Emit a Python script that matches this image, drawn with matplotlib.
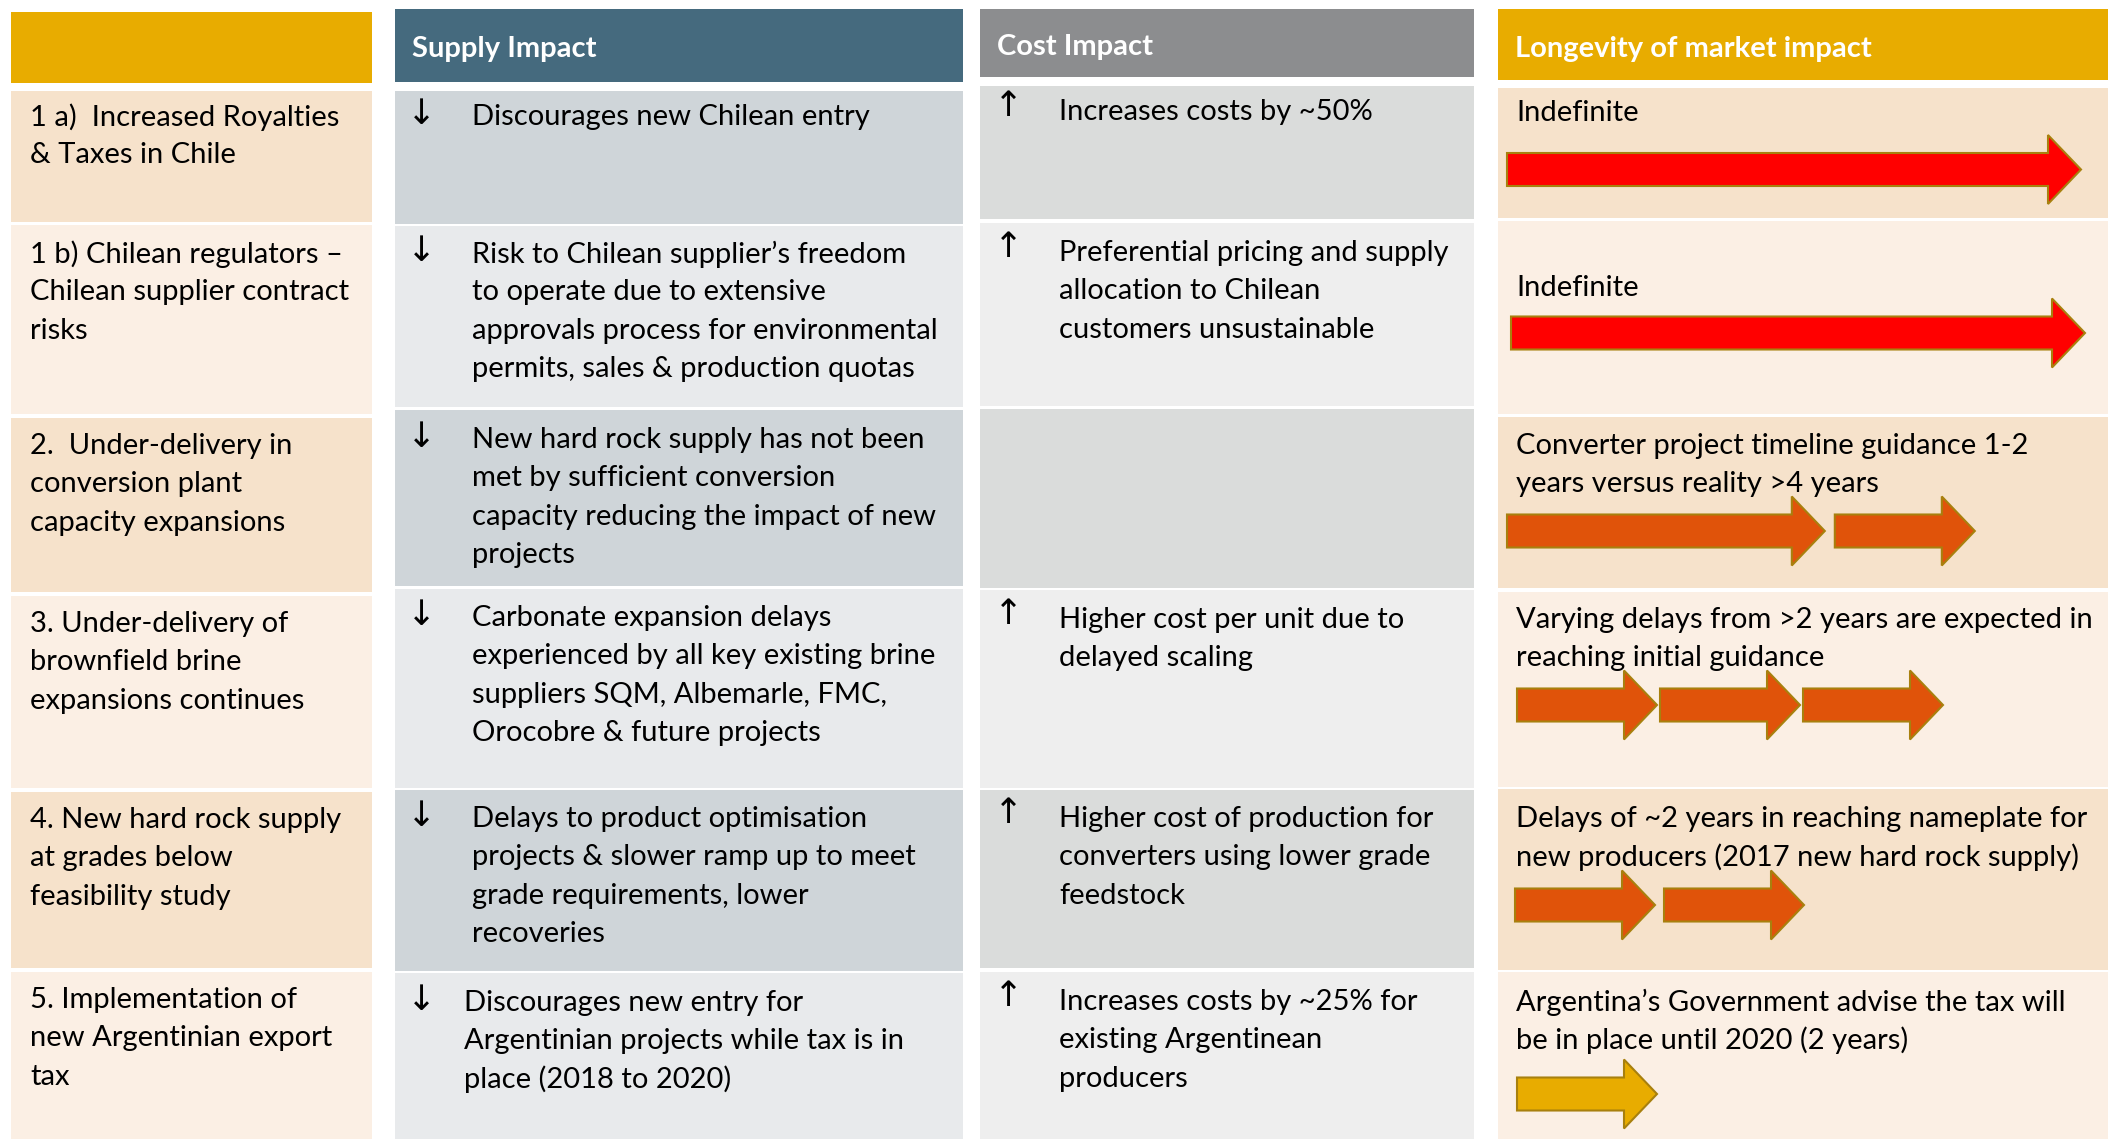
import matplotlib
matplotlib.use('Agg')
import matplotlib.pyplot as plt
from matplotlib.patches import Rectangle, Polygon

plt.rcParams['font.family'] = ['Lato', 'DejaVu Sans']

# table content
headers = ['', 'Supply Impact', 'Cost Impact', 'Longevity of market impact']

drivers = [
    ['1 a)  Increased Royalties', '& Taxes in Chile'],
    ['1 b) Chilean regulators \u2013', 'Chilean supplier contract', 'risks'],
    ['2.  Under-delivery in', 'conversion plant', 'capacity expansions'],
    ['3. Under-delivery of', 'brownfield brine', 'expansions continues'],
    ['4. New hard rock supply', 'at grades below', 'feasibility study'],
    ['5. Implementation of', 'new Argentinian export', 'tax'],
]

supply = [
    ['Discourages new Chilean entry'],
    ['Risk to Chilean supplier\u2019s freedom', 'to operate due to extensive',
     'approvals process for environmental', 'permits, sales & production quotas'],
    ['New hard rock supply has not been', 'met by sufficient conversion',
     'capacity reducing the impact of new', 'projects'],
    ['Carbonate expansion delays', 'experienced by all key existing brine',
     'suppliers SQM, Albemarle, FMC,', 'Orocobre & future projects'],
    ['Delays to product optimisation', 'projects & slower ramp up to meet',
     'grade requirements, lower', 'recoveries'],
    ['Discourages new entry for', 'Argentinian projects while tax is in',
     'place (2018 to 2020)'],
]

cost = [
    ['Increases costs by ~50%'],
    ['Preferential pricing and supply', 'allocation to Chilean', 'customers unsustainable'],
    [],
    ['Higher cost per unit due to', 'delayed scaling'],
    ['Higher cost of production for', 'converters using lower grade', 'feedstock'],
    ['Increases costs by ~25% for', 'existing Argentinean', 'producers'],
]

longevity = [
    ['Indefinite'],
    ['Indefinite'],
    ['Converter project timeline guidance 1-2', 'years versus reality >4 years'],
    ['Varying delays from >2 years are expected in', 'reaching initial guidance'],
    ['Delays of ~2 years in reaching nameplate for', 'new producers (2017 new hard rock supply)'],
    ['Argentina\u2019s Government advise the tax will', 'be in place until 2020 (2 years)'],
]

# relative arrow lengths per row (units of one "step" arrow)
arrow_lengths = [[4.1], [4.1], [2.27, 1.0], [1.0, 1.0, 1.0], [1.0, 1.0], [1.0]]
arrow_colors = ['#FF0000', '#FF0000', '#E0530A', '#E0530A', '#E0530A', '#E8AC00']

# layout (pixel coords, y down)
W, H = 2108, 1139
fig = plt.figure(figsize=(W / 100, H / 100), dpi=100)
ax = fig.add_axes([0, 0, 1, 1])
ax.set_xlim(0, W)
ax.set_ylim(H, 0)
ax.axis('off')

col_x = [(11, 372), (395, 963), (980, 1474), (1498, 2108)]
head_y = [(12, 83), (9, 82), (9, 77), (9, 80)]
head_col = ['#E8AC00', '#456A7E', '#8C8D8F', '#E8AC00']
row_tops = [[91, 225, 418, 596, 792, 972],
            [91, 226, 410, 589, 790, 973],
            [86, 223, 409, 590, 790, 972],
            [88, 221, 417, 592, 789, 972]]
row_bots = [[222, 414, 592, 788, 968, 1139],
            [224, 407, 586, 788, 971, 1139],
            [219, 406, 588, 788, 968, 1139],
            [218, 414, 588, 787, 970, 1139]]
fills = [('#F6E2CB', '#FBEFE4'), ('#CFD5D9', '#E8EAEC'),
         ('#DADCDB', '#EEEEEE'), ('#F6E2CB', '#FBEFE4')]

for c in range(4):
    x0, x1 = col_x[c]
    y0, y1 = head_y[c]
    ax.add_patch(Rectangle((x0, y0), x1 - x0, y1 - y0, color=head_col[c], lw=0))
    if headers[c]:
        ax.text(x0 + 17, (y0 + y1) / 2 + 4, headers[c], color='white', fontsize=21,
                fontweight='bold', va='center', ha='left')
    for r in range(6):
        t, b = row_tops[c][r], row_bots[c][r]
        ax.add_patch(Rectangle((x0, t), x1 - x0, b - t, color=fills[c][r % 2], lw=0))

fs = 21
lh = 38.3
first_y = [[117, 254, 446, 624, 820, 1000],
           [117, 254, 440, 618, 819, 1003],
           [112, 253, 0, 620, 819, 1002],
           [113, 288, 446, 620, 819, 1002]]
text_x = [30, 472, 1059, 1516]

def draw_lines(lines, x, y):
    for i, s in enumerate(lines):
        ax.text(x, y + i * lh, s, fontsize=fs, va='center', ha='left', color='black')

for r in range(6):
    draw_lines(drivers[r], text_x[0], first_y[0][r])
    sx = 464 if r == 5 else text_x[1]
    draw_lines(supply[r], sx, first_y[1][r])
    ax.text(421, first_y[1][r] - 3, '\u2193', fontsize=25, va='center', ha='center',
            family=['DejaVu Sans'])
    if cost[r]:
        draw_lines(cost[r], text_x[2], first_y[2][r])
        ax.text(1008, first_y[2][r] - 6, '\u2191', fontsize=25, va='center', ha='center',
                family=['DejaVu Sans'])
    draw_lines(longevity[r], text_x[3], first_y[3][r])

# arrows
unit = 140.0
head_len, head_w, body_w = 33, 69, 33
arrow_x0 = [1507, 1511, 1507, 1517, 1515, 1517]
arrow_gap = [0, 0, 10, 3, 9, 0]
arrow_cy = [169.5, 333, 531, 705, 905, 1094]

def block_arrow(xs, xe, cy, col):
    hb = xe - head_len
    pts = [(xs, cy - body_w / 2), (hb, cy - body_w / 2), (hb, cy - head_w / 2),
           (xe, cy), (hb, cy + head_w / 2), (hb, cy + body_w / 2), (xs, cy + body_w / 2)]
    ax.add_patch(Polygon(pts, closed=True, facecolor=col, edgecolor='#A8800E', lw=1.5))

for r in range(6):
    x = arrow_x0[r]
    for L in arrow_lengths[r]:
        xe = x + L * unit
        block_arrow(x, xe, arrow_cy[r], arrow_colors[r])
        x = xe + arrow_gap[r]

fig.savefig('out.png', dpi=100)
